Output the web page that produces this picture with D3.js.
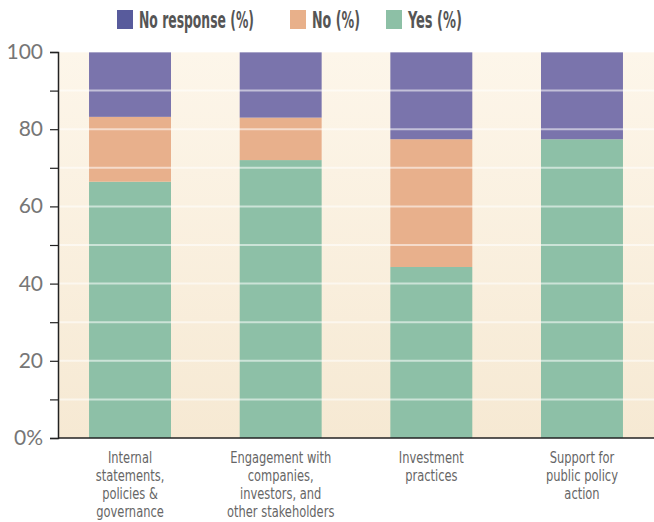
<!DOCTYPE html>
<html>
<head>
<meta charset="utf-8">
<script src="https://cdn.jsdelivr.net/npm/d3@7"></script>
<style>
  body { margin: 0; background: #fff; }
  svg { display: block; }
  .cond { font-family: "DejaVu Sans", sans-serif; font-stretch: condensed; }
</style>
</head>
<body>
<svg id="chart" width="654" height="522"></svg>
<script>
// stacked share of responses per category

const categories = [
  ["Internal", "statements,", "policies &", "governance"],
  ["Engagement with", "companies,", "investors, and", "other stakeholders"],
  ["Investment", "practices"],
  ["Support for", "public policy", "action"]
];
const yesValues = [66.4, 72, 44.3, 77.4];
const noValues = [16.8, 11, 33.1, 0];
const noResponseValues = [16.8, 17, 22.6, 22.6];
const seriesNames = ["No response (%)", "No (%)", "Yes (%)"];
const yTicks = [0, 20, 40, 60, 80, 100];

const W = 654, H = 522;
const margin = { left: 58, right: 0, top: 52, bottom: 84 };

const svg = d3.select("#chart");

const x = d3.scaleBand()
  .domain(d3.range(categories.length))
  .range([margin.left, W - margin.right])
  .paddingInner(0.456)
  .paddingOuter(0.206);

const y = d3.scaleLinear()
  .domain([0, 100])
  .range([H - margin.bottom, margin.top]);

// background gradient
let defs = svg.append("defs");
let grad = defs.append("linearGradient")
  .attr("id", "bg").attr("x1", 0).attr("x2", 0).attr("y1", 0).attr("y2", 1);
grad.append("stop").attr("offset", "0%").attr("stop-color", "#fdf6ea");
grad.append("stop").attr("offset", "100%").attr("stop-color", "#f6e9d3");

svg.append("rect")
  .attr("x", margin.left).attr("y", y(100))
  .attr("width", W - margin.left - margin.right)
  .attr("height", y(0) - y(100))
  .attr("fill", "url(#bg)");

// stacked bars
let rows = categories.map((c, i) => ({
  idx: i,
  yes: yesValues[i],
  no: noValues[i],
  nr: noResponseValues[i]
}));
let stack = d3.stack().keys(["yes", "no", "nr"])(rows);
const barColors = { yes: "#8dc0a7", no: "#e8b08c", nr: "#7a74ac" };

svg.append("g").selectAll("g")
  .data(stack)
  .join("g")
  .attr("fill", d => barColors[d.key])
  .selectAll("rect")
  .data(d => d)
  .join("rect")
  .attr("x", d => x(d.data.idx))
  .attr("width", x.bandwidth())
  .attr("y", d => y(d[1]))
  .attr("height", d => y(d[0]) - y(d[1]));

// light gridlines every 10, drawn over the bars
svg.append("g").selectAll("line")
  .data(d3.range(10, 101, 10))
  .join("line")
  .attr("x1", margin.left).attr("x2", W)
  .attr("y1", d => y(d)).attr("y2", d => y(d))
  .attr("stroke", "#ffffff")
  .attr("stroke-opacity", d => d === 100 ? 0.35 : 0.55)
  .attr("stroke-width", 2);

// y axis
let yAxis = svg.append("g")
  .attr("transform", `translate(${margin.left},0)`)
  .call(d3.axisLeft(y).tickValues(d3.range(0, 101, 10)).tickSize(8).tickFormat(""));
yAxis.select(".domain").attr("stroke", "#222").attr("stroke-width", 1.5);
yAxis.selectAll(".tick line").attr("stroke", "#222").attr("stroke-width", 1.2);

svg.append("g").selectAll("text")
  .data(yTicks)
  .join("text")
  .attr("x", 43)
  .attr("y", d => y(d) + 7)
  .attr("text-anchor", "end")
  .attr("font-family", "Lato, 'Open Sans', sans-serif")
  .attr("font-size", 21)
  .attr("fill", "#767676")
  .text(d => d === 0 ? "0%" : d);

// baseline
svg.append("line")
  .attr("x1", margin.left).attr("x2", W)
  .attr("y1", y(0)).attr("y2", y(0))
  .attr("stroke", "#222").attr("stroke-width", 1.5);

// category labels (squeezed horizontally to look condensed)
let catG = svg.append("g").selectAll("text")
  .data(categories)
  .join("text")
  .attr("class", "cond")
  .attr("transform", (d, i) => `translate(${x(i) + x.bandwidth() / 2},0) scale(0.85,1)`)
  .attr("text-anchor", "middle")
  .attr("font-size", 15)
  .attr("fill", "#666");
catG.selectAll("tspan")
  .data(d => d)
  .join("tspan")
  .attr("x", 0)
  .attr("y", (d, j) => 463 + j * 18)
  .text(d => d);

// legend
const legendColors = ["#585b9c", "#e8b08a", "#8dc0a6"];
const legendX = [117, 290, 386];
const legendTextW = [115, 48, 54];
let leg = svg.append("g").selectAll("g")
  .data(seriesNames)
  .join("g")
  .attr("transform", (d, i) => `translate(${legendX[i]},10)`);
leg.append("rect")
  .attr("width", 16).attr("height", 19)
  .attr("fill", (d, i) => legendColors[i]);
leg.append("text")
  .attr("class", "cond")
  .attr("font-weight", "bold")
  .attr("font-size", 23)
  .attr("fill", "#555")
  .text(d => d)
  .each(function (d, i) {
    let w = this.getComputedTextLength();
    let sx = legendTextW[i] / w;
    d3.select(this).attr("transform", `translate(22,18) scale(${sx},1)`);
  });
</script>
</body>
</html>
